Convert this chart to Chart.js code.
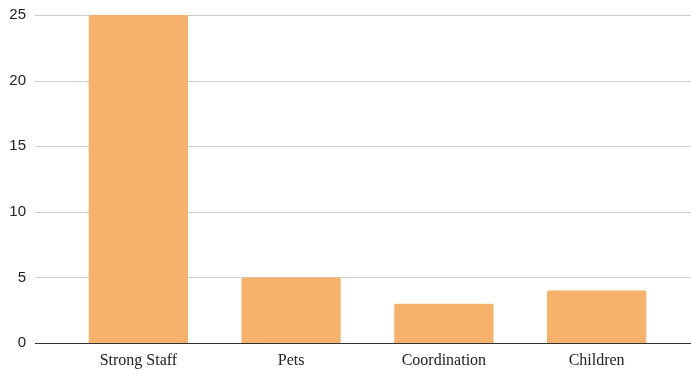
<!DOCTYPE html>
<html>
<head>
<meta charset="utf-8">
<script src="https://cdn.jsdelivr.net/npm/chart.js@4"></script>
<style>
html,body{margin:0;padding:0;background:#fff;}
#wrap{width:691px;height:371px;position:relative;}
</style>
</head>
<body>
<div id="wrap"><canvas id="c" width="691" height="371"></canvas></div>
<script>
const categories = ["Strong Staff", "Pets", "Coordination", "Children"];
const values = [25, 5, 3, 4];
const yTicks = [0, 5, 10, 15, 20, 25];

const gridPlugin = {
  id: 'fullGrid',
  beforeDatasetsDraw(chart) {
    const ctx = chart.ctx;
    const y = chart.scales.y;
    ctx.save();
    yTicks.forEach(v => {
      const py = Math.round(y.getPixelForValue(v)) + 0.5;
      ctx.beginPath();
      ctx.strokeStyle = v === 0 ? '#333333' : '#cccccc';
      ctx.lineWidth = 1;
      ctx.moveTo(35, py);
      ctx.lineTo(691, py);
      ctx.stroke();
    });
    ctx.restore();
  }
};

new Chart(document.getElementById('c'), {
  type: 'bar',
  data: {
    labels: categories,
    datasets: [{
      data: values,
      backgroundColor: '#F6B26B',
      borderRadius: 2,
      borderSkipped: 'bottom',
      barPercentage: 0.65,
      categoryPercentage: 1
    }]
  },
  options: {
    responsive: false,
    animation: false,
    layout: { padding: { top: 15, right: 18, bottom: 0, left: 0 } },
    plugins: { legend: { display: false }, tooltip: { enabled: false } },
    scales: {
      x: {
        offset: true,
        grid: { display: false, drawTicks: false },
        border: { display: false },
        ticks: { color: '#222', padding: 8, font: { family: '"Liberation Serif", "Times New Roman", serif', size: 16 }, maxRotation: 0 },
        afterFit: s => { s.height = 28; }
      },
      y: {
        min: 0, max: 25,
        grid: { display: false, drawTicks: false },
        border: { display: false },
        afterBuildTicks: s => { s.ticks = yTicks.map(v => ({ value: v })); },
        ticks: { color: '#222', padding: 36, font: { family: '"Liberation Sans", Arial, sans-serif', size: 15 } },
        afterFit: s => { s.width = 62; s.paddingTop = 8; s.paddingBottom = 8; }
      }
    }
  },
  plugins: [gridPlugin]
});
</script>
</body>
</html>
